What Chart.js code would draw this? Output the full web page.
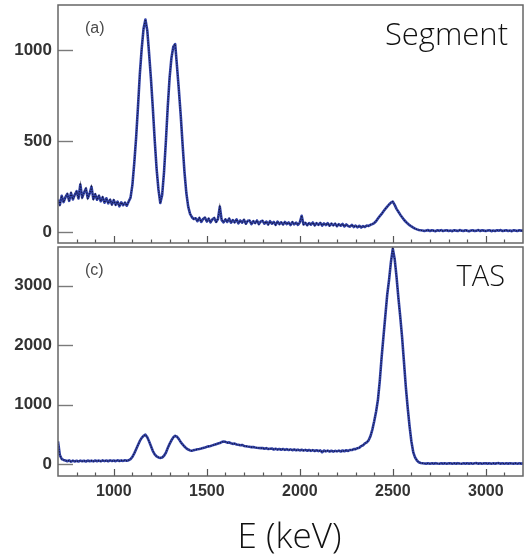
<!DOCTYPE html>
<html>
<head>
<meta charset="utf-8">
<script src="https://cdn.jsdelivr.net/npm/chart.js@4"></script>
<style>
  html, body { margin: 0; padding: 0; background: #fff; }
  #wrap { position: relative; width: 527px; height: 555px; overflow: hidden; background: #fff; }
  canvas { position: absolute; left: 0; }
  .big { position: absolute; font-family: "Open Sans", "Noto Sans", sans-serif; font-weight: 300; line-height: 1; color: #111; white-space: nowrap; }
</style>
</head>
<body>
<div id="wrap">
  <canvas id="c1" width="527" height="246" style="top:0px"></canvas>
  <canvas id="c2" width="527" height="280" style="top:246px"></canvas>
  <div class="big" id="segLabel" style="top:18px; right:19px; font-size:31px;">Segment</div>
  <div class="big" id="tasLabel" style="top:260px; right:22px; font-size:29px;">TAS</div>
  <div class="big" id="xTitle" style="top:517px; left:0; width:579px; text-align:center; font-size:35px;">E (keV)</div>
</div>
<script>
// ---- data (energy channels: 700 keV + i*10 keV) ----
const E_START = 700;
const E_STEP = 10;
const X_MIN = 700;
const X_MAX = 3200;

const segmentCounts = [
  178,150,200,165,192,210,172,215,180,205,
  225,185,262,190,218,240,186,212,250,182,
  208,178,200,170,192,162,186,158,178,152,
  176,150,168,142,164,148,162,145,168,190,
  260,380,520,690,870,1010,1120,1170,1110,980,
  840,680,505,350,235,160,205,330,500,690,
  850,960,1020,1035,910,780,640,480,330,215,
  140,100,82,72,76,60,78,56,72,80,
  58,74,54,70,78,56,72,140,66,54,
  70,56,74,52,66,54,70,48,64,52,
  68,46,62,64,44,60,50,64,44,58,
  62,46,58,42,60,46,56,40,58,44,
  54,42,56,44,53,39,55,43,52,40,
  53,90,42,51,38,50,41,53,37,49,
  40,51,36,48,39,49,35,47,37,46,
  33,44,35,45,31,42,33,30,40,28,
  36,26,35,25,33,28,36,34,40,44,
  50,60,75,88,100,115,128,140,152,162,
  168,150,128,112,96,82,68,57,47,38,
  31,25,19,15,12,10,9,6,9,11,
  6,10,8,5,10,7,11,6,9,10,
  6,9,5,10,8,6,11,8,6,10,
  8,5,9,10,6,8,11,6,10,8,
  6,9,10,5,9,6,10,8,11,6,
  8,10,6,9,5,10,8,6,10,8,
  8
];

const tasCounts = [
  380,150,85,70,60,48,62,42,58,45,
  56,43,59,47,57,44,60,48,58,46,
  61,49,59,47,62,50,60,48,63,51,
  61,49,64,52,62,54,65,56,65,85,
  120,180,250,320,390,440,475,495,450,380,
  300,220,165,130,112,105,110,140,190,270,
  340,400,450,475,460,420,370,330,295,265,
  245,230,225,235,240,250,255,262,270,278,
  290,298,305,315,325,335,345,355,370,380,
  375,360,365,350,340,345,330,325,318,322,
  305,300,295,292,285,288,280,275,272,268,
  270,258,268,254,258,262,246,257,244,255,
  242,253,240,251,236,248,234,246,232,243,
  230,241,228,239,224,237,222,235,220,233,
  218,231,200,229,214,227,212,225,210,223,
  214,227,212,229,216,233,221,238,236,251,
  252,268,276,303,316,348,366,400,470,580,
  720,880,1080,1400,1800,2150,2500,2850,3100,3400,
  3620,3450,3150,2800,2480,2130,1720,1300,950,640,
  380,200,110,60,30,18,14,10,8,15,
  7,14,8,16,9,7,15,8,14,6,
  13,15,7,14,8,16,9,7,14,8,
  15,8,14,7,13,16,8,14,7,13,
  14,8,15,7,13,8,14,16,8,13,
  7,14,8,15,9,8,14,7,13,8,
  12
];

const segYTicks = [0, 500, 1000];
const tasYTicks = [0, 1000, 2000, 3000];
const xTickLabels = [1000, 1500, 2000, 2500, 3000];

// ---- helpers ----
function toPoints(arr) { return arr.map((v, i) => ({ x: E_START + i * E_STEP, y: v })); }

Chart.defaults.font.family = '"Liberation Sans", Arial, sans-serif';

const frameTicks = {
  id: 'frameTicks',
  afterDraw(chart, args, opts) {
    const { ctx, chartArea: a, scales } = chart;
    ctx.save();
    ctx.strokeStyle = '#7a7a7a';
    ctx.lineWidth = 1.4;
    opts.yTicks.forEach(v => {
      const y = Math.round(scales.y.getPixelForValue(v)) + 0.5;
      ctx.beginPath(); ctx.moveTo(a.left, y); ctx.lineTo(a.left + 15, y); ctx.stroke();
    });
    ctx.strokeStyle = '#555';
    ctx.lineWidth = 1.2;
    for (let v = X_MIN + 100; v < X_MAX; v += 100) {
      const x = Math.round(scales.x.getPixelForValue(v)) + 0.5;
      const len = (v % 500 === 0) ? 7 : 3.5;
      ctx.beginPath(); ctx.moveTo(x, a.bottom); ctx.lineTo(x, a.bottom - len); ctx.stroke();
    }
    ctx.strokeStyle = '#666';
    ctx.lineWidth = 1.5;
    ctx.strokeRect(a.left, a.top, a.right - a.left, a.bottom - a.top);
    ctx.fillStyle = '#4a4a4a';
    ctx.font = '16px "Liberation Sans", Arial, sans-serif';
    ctx.textBaseline = 'middle';
    ctx.fillText(opts.label, a.left + 27, a.top + 24);
    ctx.restore();
  }
};

function datasets(arr) {
  return [
    { data: toPoints(arr), borderColor: 'rgba(10,10,30,0.8)', borderWidth: 1.2, borderDash: [1, 1.5],
      pointRadius: 0, tension: 0, fill: false },
    { data: toPoints(arr), borderColor: '#3343a8', borderWidth: 2.6,
      pointRadius: 0, tension: 0, fill: false, borderJoinStyle: 'round' }
  ];
}

function yAxis(min, max, ticks) {
  return {
    type: 'linear', min: min, max: max,
    afterBuildTicks: s => { s.ticks = ticks.map(v => ({ value: v })); },
    afterFit: s => { s.width = 58; s.paddingTop = 0; s.paddingBottom = 0; },
    grid: { display: false, drawTicks: false },
    border: { display: false },
    ticks: { color: '#333', font: { size: 17, weight: 'bold' }, padding: 6, callback: v => String(v) }
  };
}

new Chart(document.getElementById('c1'), {
  type: 'line',
  data: { datasets: datasets(segmentCounts) },
  options: {
    responsive: false, animation: false, devicePixelRatio: 1,
    layout: { padding: { top: 5, right: 4, bottom: 3, left: 0 } },
    plugins: { legend: { display: false }, tooltip: { enabled: false },
      frameTicks: { yTicks: segYTicks, label: '(a)' } },
    scales: {
      x: { type: 'linear', min: X_MIN, max: X_MAX, display: false },
      y: yAxis(-60, 1250, segYTicks)
    }
  },
  plugins: [frameTicks]
});

new Chart(document.getElementById('c2'), {
  type: 'line',
  data: { datasets: datasets(tasCounts) },
  options: {
    responsive: false, animation: false, devicePixelRatio: 1,
    layout: { padding: { top: 1, right: 4, bottom: 0, left: 0 } },
    plugins: { legend: { display: false }, tooltip: { enabled: false },
      frameTicks: { yTicks: tasYTicks, label: '(c)' } },
    scales: {
      x: {
        type: 'linear', min: X_MIN, max: X_MAX, position: 'bottom',
        afterBuildTicks: s => { s.ticks = xTickLabels.map(v => ({ value: v })); },
        afterFit: s => { s.height = 50; },
        grid: { display: false, drawTicks: false },
        border: { display: false },
        ticks: { color: '#333', font: { size: 16, weight: 'bold' }, padding: 6, maxRotation: 0, autoSkip: false, callback: v => String(v) }
      },
      y: yAxis(-200, 3650, tasYTicks)
    }
  },
  plugins: [frameTicks]
});
</script>
</body>
</html>
